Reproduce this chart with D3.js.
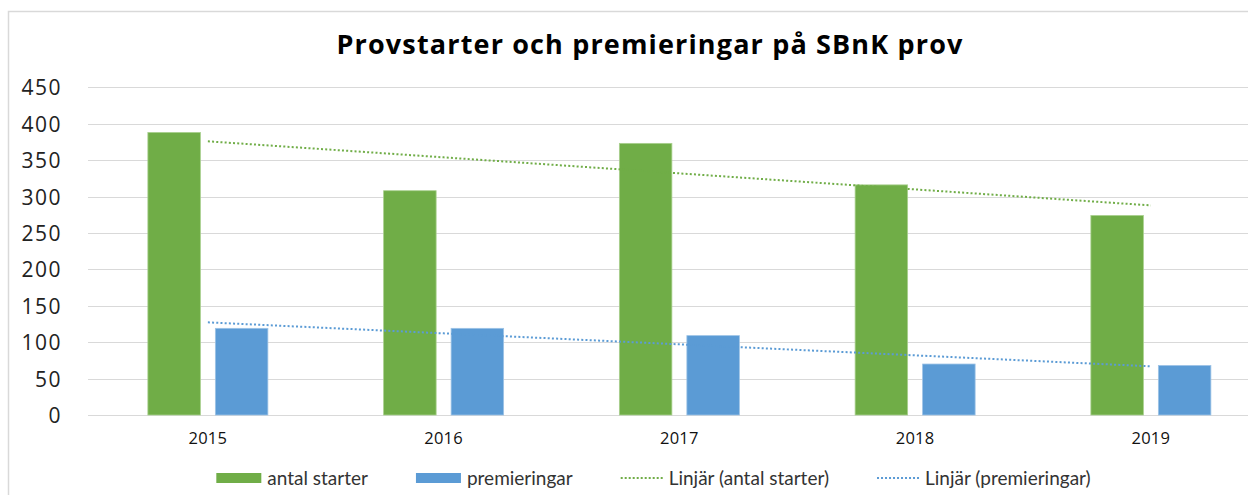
<!DOCTYPE html>
<html><head><meta charset="utf-8">
<script src="https://cdn.jsdelivr.net/npm/d3@7"></script>
<style>html,body{margin:0;padding:0;background:#fff;}svg{display:block;}</style>
</head><body><svg id="c" width="1248" height="495"></svg>
<script>
const categories = ["2015","2016","2017","2018","2019"];
const antalStarter = [388, 308, 373, 316, 274];
const premieringar = [119, 119, 109, 70, 68];
const yTicks = [0,50,100,150,200,250,300,350,400,450];
const seriesNames = ["antal starter","premieringar"];
const trendNames = ["Linjär (antal starter)","Linjär (premieringar)"];
const colors = ["#70AD47","#5B9BD5"];
const title = "Provstarter och premieringar på SBnK prov";

const svg = d3.select("#c");
const W = 1248, H = 495;
const plotL = 90, catStep = 235.75, plotTop = 87.3, plotBot = 415;
const x = d3.scaleBand().domain(categories).range([plotL, plotL + catStep*categories.length]).padding(0);
const y = d3.scaleLinear().domain([0,450]).range([plotBot, plotTop]);
const inner = d3.scaleBand().domain(seriesNames)
  .range([x.bandwidth()/2 - 60, x.bandwidth()/2 + 60]).paddingInner(0.222);

// frame
svg.append("path").attr("d", `M8.5,${H} L8.5,11.5 L${W},11.5`).attr("fill","none")
  .attr("stroke","#d9d9d9").attr("stroke-width",1.5);

// title
const tt = svg.append("text").attr("x",650).attr("y",54).attr("text-anchor","middle")
  .attr("font-family","Open Sans").attr("font-weight","bold").attr("font-size",27)
  .attr("fill","#000").text(title);
{
  const w = tt.node().getComputedTextLength();
  tt.attr("letter-spacing", ((626 - w) / (title.length - 1)).toFixed(2));
}

// gridlines
svg.append("g").selectAll("line").data(yTicks).join("line")
  .attr("x1",88).attr("x2",W).attr("y1",d=>Math.round(y(d))+0.5).attr("y2",d=>Math.round(y(d))+0.5)
  .attr("stroke","#d9d9d9").attr("stroke-width",1.2);

// y axis labels
const yAxis = d3.axisLeft(y).tickValues(yTicks).tickSize(0).tickPadding(0);
const ya = svg.append("g").attr("transform","translate(62,0)").call(yAxis);
ya.select(".domain").remove();
ya.selectAll("text").attr("font-family","Open Sans").attr("font-size",21)
  .attr("fill","#222").attr("letter-spacing","1.5").attr("dy","0.36em");

// x axis labels
const xAxis = d3.axisBottom(x).tickSize(0).tickPadding(0);
const xa = svg.append("g").attr("transform",`translate(0,${plotBot+17})`).call(xAxis);
xa.select(".domain").remove();
xa.selectAll("text").attr("font-family","Open Sans").attr("font-size",16.5).attr("fill","#111")
  .attr("letter-spacing","0.3");

// bars
const data = [antalStarter, premieringar];
data.forEach((vals, si) => {
  svg.append("g").selectAll("rect").data(vals).join("rect")
    .attr("x",(d,i)=>x(categories[i]) + inner(seriesNames[si]))
    .attr("width",inner.bandwidth())
    .attr("y",d=>y(d)).attr("height",d=>y(0)-y(d))
    .attr("fill",colors[si]).attr("stroke", si===0 ? "#a9d08e" : "#9dc3e6").attr("stroke-width",0.8);
});

// trend lines (linear regression)
function linreg(vals){
  const xs = vals.map((_,i)=>i+1);
  const mx = d3.mean(xs), my = d3.mean(vals);
  const b = d3.sum(xs.map((xv,i)=>(xv-mx)*(vals[i]-my))) / d3.sum(xs.map(xv=>(xv-mx)**2));
  const a = my - b*mx;
  return xs.map(xv=>a+b*xv);
}
data.forEach((vals, si) => {
  const t = linreg(vals);
  const line = d3.line().x((d,i)=>x(categories[i])+x.bandwidth()/2).y(d=>y(d));
  svg.append("path").attr("d", line(t))
    .attr("fill","none").attr("stroke",colors[si]).attr("stroke-width",2)
    .attr("stroke-dasharray","2,2.2");
});

// legend
const lg = svg.append("g");
const items = [
  {name:seriesNames[0], type:"rect", color:colors[0]},
  {name:seriesNames[1], type:"rect", color:colors[1]},
  {name:trendNames[0], type:"line", color:colors[0]},
  {name:trendNames[1], type:"line", color:colors[1]}
];
const ly = 478;
const gap = 48;
let cx = 0;
items.forEach(it => {
  const g = lg.append("g");
  if (it.type==="rect") g.append("rect").attr("x",0).attr("y",ly-5).attr("width",45).attr("height",10).attr("fill",it.color);
  else g.append("line").attr("x1",0).attr("x2",43).attr("y1",ly).attr("y2",ly).attr("stroke",it.color).attr("stroke-width",2).attr("stroke-dasharray","2,2");
  const off = it.type==="rect"?51:48;
  const t = g.append("text").attr("x", off).attr("y",ly).attr("dy","0.35em")
    .attr("font-family","Lato").attr("font-size",19).attr("fill","#333").text(it.name);
  const w = off + t.node().getComputedTextLength();
  g.attr("transform",`translate(${cx},0)`);
  cx += w + gap;
});
const totalW = cx - gap;
lg.attr("transform",`translate(${653.5 - totalW/2},0)`);
</script></body></html>
